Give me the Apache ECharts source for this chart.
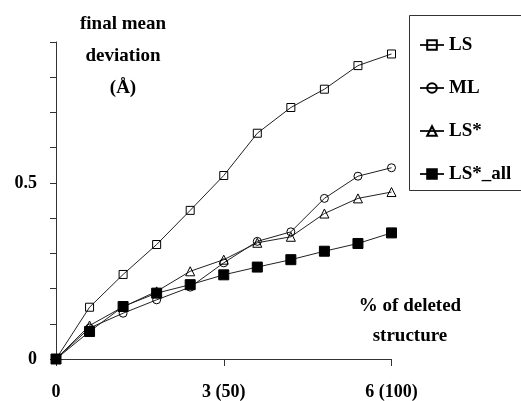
<!DOCTYPE html>
<html><head><meta charset="utf-8">
<script src="https://cdn.jsdelivr.net/npm/echarts@6/dist/echarts.min.js"></script>
<style>html,body{margin:0;padding:0;background:#fff}#c{width:521px;height:401px}</style>
</head><body><div id="c"></div>
<script>
var xValues = [0, 0.6, 1.2, 1.8, 2.4, 3.0, 3.6, 4.2, 4.8, 5.4, 6.0];
var LS      = [0, 0.147, 0.240, 0.325, 0.422, 0.521, 0.641, 0.714, 0.766, 0.833, 0.866];
var ML      = [0, 0.088, 0.130, 0.168, 0.204, 0.273, 0.334, 0.361, 0.456, 0.519, 0.543];
var LSstar  = [0, 0.095, 0.148, 0.192, 0.249, 0.282, 0.330, 0.347, 0.413, 0.456, 0.474];
var LSall   = [0, 0.078, 0.149, 0.187, 0.211, 0.239, 0.261, 0.282, 0.306, 0.328, 0.358];
var seriesNames = ['LS', 'ML', 'LS*', 'LS*_all'];
var xTickLabels = {0: '0', 3: '3 (50)', 6: '6 (100)'};
var yTickLabels = {0: '0', 0.5: '0.5'};

function pairs(ys){ return xValues.map(function(x,i){ return [x, ys[i]]; }); }
var font = '"Liberation Serif", serif';
var lineCol = '#222';

function mk(name, data, symbol, size, filled){
  return {
    name: name, type: 'line', data: pairs(data), symbol: symbol, symbolSize: size,
    lineStyle: {color: lineCol, width: 1},
    itemStyle: {color: filled ? '#000' : 'rgba(0,0,0,0)', borderColor: '#000', borderWidth: 1},
    emphasis: {disabled: true}, animation: false, z: filled ? 3 : 2
  };
}

var chart = echarts.init(document.getElementById('c'));
chart.setOption({
  animation: false,
  grid: {left: 56, right: 129.5, top: 42, bottom: 42},
  xAxis: {
    type: 'value', min: 0, max: 6, interval: 3,
    axisLine: {lineStyle: {color: '#333', width: 1}},
    axisTick: {show: true, length: 7, lineStyle: {color: '#333'}},
    splitLine: {show: false},
    axisLabel: {margin: 24, color: '#000', fontFamily: font, fontWeight: 'bold', fontSize: 18,
      formatter: function(v){ return xTickLabels[v] !== undefined ? xTickLabels[v] : ''; }}
  },
  yAxis: {
    type: 'value', min: 0, max: 0.9, interval: 0.1,
    axisLine: {show: true, lineStyle: {color: '#333', width: 1}},
    axisTick: {show: true, length: 6, lineStyle: {color: '#333'}},
    splitLine: {show: false},
    axisLabel: {margin: 19, color: '#000', fontFamily: font, fontWeight: 'bold', fontSize: 18,
      formatter: function(v){ var k = Math.round(v*10)/10; return yTickLabels[k] !== undefined ? yTickLabels[k] : ''; }}
  },
  legend: {
    orient: 'vertical', left: 414, top: 29, itemGap: 21, itemWidth: 24, itemHeight: 12,
    data: seriesNames,
    textStyle: {fontFamily: font, fontWeight: 'bold', fontSize: 19, color: '#000', lineHeight: 22},
    selectedMode: false
  },
  graphic: [
    {type: 'rect', shape: {x: 409.5, y: 15.5, width: 130, height: 175}, style: {fill: 'none', stroke: '#333', lineWidth: 1}, z: 0},
    {type: 'text', x: 123, y: 8, style: {text: 'final mean\ndeviation\n(Å)', fill: '#000', font: 'bold 19px ' + font, align: 'center', lineHeight: 32}},
    {type: 'text', x: 410, y: 291, style: {text: '% of deleted\nstructure', fill: '#000', font: 'bold 19px ' + font, align: 'center', lineHeight: 30}}
  ],
  series: [
    mk('LS', LS, 'rect', 8, false),
    mk('ML', ML, 'circle', 8, false),
    mk('LS*', LSstar, 'triangle', 9, false),
    mk('LS*_all', LSall, 'rect', 10, true)
  ]
});
</script>
</body></html>
